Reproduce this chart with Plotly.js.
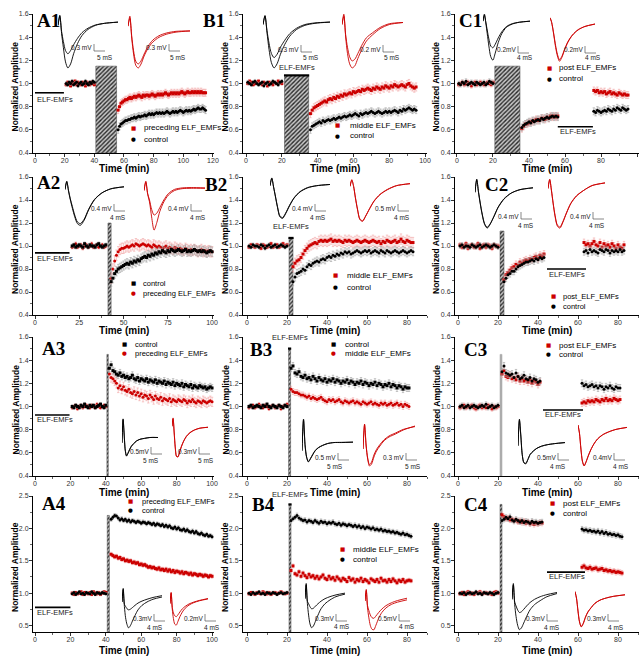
<!DOCTYPE html>
<html><head><meta charset="utf-8">
<script src="https://cdn.plot.ly/plotly-3.0.1.min.js"></script>
<style>html,body{margin:0;padding:0;background:#fff}#chart{width:641px;height:656px}</style>
</head><body><div id="chart"></div>
<script>
// ================= DATA (normalized fEPSP amplitude, sampled every 1 min) =================
// Segment start times (min)
const A1_start=[21,56], A2_start=[21,43], A3_start=[21,42], A4_start=[21,43];
const B1_start=[1,36], B2_start=[1,23], B3_start=[1,22], B4_start=[1,22];
const C1_start=[1,36,76], C2_start=[1,23,63], C3_start=[1,22,62], C4_start=[1,22,62];
// SEM used for error bars: [baseline, control post, ELF post]
const A1_sem=[0.015,0.03,0.03], A2_sem=[0.015,0.04,0.045], A3_sem=[0.015,0.03,0.04], A4_sem=[0.02,0.03,0.03];
const B1_sem=[0.015,0.03,0.035], B2_sem=[0.015,0.035,0.045], B3_sem=[0.015,0.03,0.025], B4_sem=[0.02,0.035,0.03];
const C1_sem=[0.02,0.03,0.03], C2_sem=[0.02,0.03,0.03], C3_sem=[0.02,0.03,0.03], C4_sem=[0.025,0.04,0.04];
// ELF-EMF exposure periods [start, end] (min)
const A1_field=[41,55], A2_field=[41.2,43], A3_field=[40.6,41.4], A4_field=[40.8,42];
const B1_field=[21.5,35], B2_field=[21,23], B3_field=[20.8,21.8], B4_field=[21,22];
const C1_field=[21,35], C2_field=[21,23], C3_field=[21,22], C4_field=[21,22];

// ---- A1
const A1_ctrl_base=[1.00,0.99,1.01,1.00,1.02,0.99,1.00,1.01,0.98,1.00,1.01,0.99,1.00,1.02,1.00,0.99,1.01,1.00,1.02,1.01];
const A1_exp_base=[0.99,1.01,1.00,0.98,1.01,1.00,1.02,0.99,1.01,1.00,0.99,1.01,1.00,0.98,1.01,1.00,0.99,1.01,1.00,0.99];
const A1_exp_post=[0.77,0.80,0.83,0.84,0.85,0.86,0.86,0.87,0.88,0.87,0.88,0.89,0.88,0.89,0.90,0.89,0.88,0.90,0.89,0.90,
0.90,0.89,0.90,0.91,0.90,0.89,0.90,0.91,0.90,0.91,0.90,0.91,0.92,0.91,0.90,0.91,0.92,0.91,0.92,0.91,
0.92,0.91,0.92,0.93,0.92,0.91,0.92,0.93,0.92,0.92,0.93,0.92,0.93,0.92,0.93,0.92,0.93,0.92,0.92,0.92];
const A1_ctrl_post=[0.60,0.63,0.65,0.66,0.67,0.68,0.68,0.69,0.69,0.70,0.70,0.71,0.70,0.71,0.72,0.71,0.72,0.72,0.73,0.72,
0.73,0.74,0.73,0.74,0.73,0.74,0.75,0.74,0.75,0.74,0.75,0.74,0.75,0.76,0.75,0.74,0.75,0.76,0.75,0.76,
0.75,0.76,0.77,0.76,0.75,0.76,0.77,0.76,0.77,0.76,0.77,0.78,0.77,0.78,0.79,0.78,0.78,0.79,0.78,0.77];
// ---- A2
const A2_ctrl_base=[1.00,1.01,0.99,1.00,1.01,1.00,0.99,1.02,1.00,0.99,1.01,1.00,1.00,0.99,1.01,1.02,1.00,0.99,1.00,1.01];
const A2_exp_base=[0.99,1.00,1.02,0.99,1.00,1.01,0.98,1.00,1.01,0.99,1.00,1.02,0.99,1.00,1.01,0.99,1.00,1.01,0.99,1.00];
const A2_ctrl_post=[0.69,0.72,0.76,0.78,0.80,0.81,0.82,0.83,0.84,0.85,0.84,0.86,0.85,0.87,0.86,0.88,0.87,0.89,0.90,0.91,
0.90,0.92,0.91,0.93,0.92,0.94,0.93,0.95,0.94,0.96,0.95,0.94,0.96,0.95,0.97,0.96,0.95,0.96,0.97,0.96,
0.95,0.96,0.97,0.95,0.96,0.95,0.96,0.97,0.96,0.95,0.96,0.95,0.96,0.95,0.94,0.95,0.96,0.95];
const A2_exp_post=[0.72,0.80,0.87,0.92,0.95,0.97,0.98,0.98,0.99,1.00,0.99,1.00,1.01,1.00,1.02,1.01,1.00,1.01,1.02,1.01,
1.00,1.01,1.00,0.99,1.01,1.00,0.99,1.00,0.99,0.98,0.99,1.00,0.98,0.99,0.98,0.97,0.99,0.98,0.97,0.98,
0.97,0.96,0.98,0.97,0.96,0.97,0.96,0.97,0.96,0.95,0.96,0.97,0.95,0.96,0.95,0.96,0.95,0.95];
// ---- A3
const A3_ctrl_base=[1.00,0.99,1.01,1.00,0.99,1.01,1.00,1.02,1.00,0.99,1.01,1.00,1.01,0.99,1.00,1.01,1.02,1.00,0.99,1.01];
const A3_exp_base=[0.99,1.00,1.01,0.98,1.00,1.01,0.99,1.00,1.01,1.00,0.99,1.01,1.00,0.99,1.02,1.00,0.99,1.00,1.01,1.00];
const A3_ctrl_post=[1.33,1.36,1.31,1.30,1.28,1.27,1.29,1.26,1.27,1.25,1.26,1.24,1.25,1.27,1.24,1.23,1.25,1.22,1.24,1.23,
1.22,1.24,1.21,1.23,1.22,1.21,1.23,1.20,1.22,1.21,1.20,1.22,1.19,1.21,1.20,1.19,1.21,1.18,1.20,1.19,
1.18,1.20,1.17,1.19,1.18,1.17,1.19,1.16,1.18,1.17,1.16,1.18,1.17,1.16,1.17,1.15,1.16,1.17,1.16];
const A3_exp_post=[1.28,1.25,1.24,1.22,1.20,1.16,1.18,1.15,1.17,1.14,1.13,1.15,1.12,1.11,1.13,1.10,1.12,1.09,1.11,1.08,
1.10,1.09,1.07,1.10,1.08,1.06,1.09,1.07,1.06,1.08,1.05,1.07,1.06,1.05,1.07,1.04,1.06,1.05,1.04,1.06,
1.05,1.04,1.06,1.05,1.03,1.05,1.04,1.06,1.04,1.03,1.05,1.04,1.03,1.05,1.04,1.03,1.04,1.05,1.04];
// ---- A4
const A4_ctrl_base=[0.99,1.01,0.98,1.00,1.02,0.99,1.00,0.98,1.01,1.00,0.99,1.02,1.00,0.98,1.01,1.00,0.99,1.01,1.00,0.99];
const A4_exp_base=[1.00,0.98,1.01,0.99,1.00,1.02,0.98,1.01,1.00,0.99,1.01,0.98,1.02,1.00,0.99,1.01,0.98,1.00,1.02,1.01];
const A4_ctrl_post=[2.14,2.17,2.20,2.19,2.16,2.13,2.15,2.12,2.14,2.11,2.13,2.10,2.12,2.11,2.09,2.11,2.10,2.08,2.10,2.09,
2.07,2.09,2.08,2.06,2.08,2.05,2.07,2.06,2.04,2.06,2.03,2.05,2.02,2.04,2.01,2.00,2.02,1.99,2.01,1.98,
1.97,1.99,1.96,1.98,1.95,1.94,1.96,1.93,1.95,1.92,1.91,1.93,1.90,1.89,1.91,1.88,1.89,1.87];
const A4_exp_post=[1.60,1.58,1.56,1.57,1.54,1.55,1.52,1.53,1.50,1.51,1.49,1.50,1.47,1.48,1.46,1.47,1.44,1.45,1.43,1.44,
1.42,1.40,1.41,1.39,1.40,1.38,1.37,1.39,1.36,1.37,1.35,1.37,1.34,1.36,1.33,1.35,1.32,1.34,1.33,1.31,
1.33,1.30,1.32,1.31,1.29,1.31,1.28,1.30,1.29,1.27,1.29,1.28,1.26,1.28,1.27,1.25,1.27,1.26];
// ---- B1
const B1_ctrl_base=[1.01,1.00,0.99,1.01,1.02,1.00,0.99,1.00,1.01,0.98,1.00,1.01,0.99,1.00,1.02,1.01,1.00,0.99,1.01,1.02];
const B1_exp_base=[1.00,1.02,1.01,0.99,1.00,1.01,1.02,1.00,0.99,1.01,1.00,0.98,1.01,1.00,0.99,1.01,1.00,1.02,1.01,1.00];
const B1_exp_post=[0.74,0.77,0.79,0.80,0.81,0.82,0.83,0.84,0.85,0.84,0.86,0.87,0.86,0.88,0.87,0.89,0.88,0.90,0.89,0.91,
0.90,0.91,0.92,0.91,0.93,0.92,0.93,0.94,0.93,0.95,0.94,0.95,0.96,0.95,0.94,0.96,0.95,0.97,0.96,0.95,
0.97,0.96,0.98,0.97,0.96,0.98,0.97,0.99,0.98,0.97,0.98,0.99,0.98,0.97,0.99,1.00,0.98,0.97,0.96,0.97];
const B1_ctrl_post=[0.60,0.63,0.64,0.65,0.66,0.67,0.66,0.68,0.67,0.68,0.69,0.68,0.69,0.70,0.69,0.70,0.71,0.70,0.71,0.72,
0.71,0.72,0.73,0.72,0.73,0.74,0.73,0.72,0.74,0.73,0.74,0.75,0.74,0.75,0.76,0.75,0.74,0.75,0.76,0.75,
0.74,0.75,0.76,0.75,0.76,0.75,0.76,0.77,0.76,0.75,0.77,0.76,0.78,0.77,0.78,0.79,0.78,0.77,0.78,0.77];
// ---- B2
const B2_ctrl_base=[1.00,0.99,1.01,1.00,1.00,0.99,1.01,1.00,0.98,1.00,1.01,0.99,1.00,1.01,0.99,1.00,1.01,1.00,0.99,1.00];
const B2_exp_base=[0.99,1.01,1.00,0.99,1.01,1.00,0.98,1.01,1.00,0.99,1.00,1.02,0.99,1.00,1.01,0.99,1.00,1.02,1.00,1.01];
const B2_exp_post=[0.82,0.85,0.87,0.88,0.90,0.93,0.96,0.98,1.00,1.01,1.02,1.03,1.02,1.04,1.05,1.04,1.05,1.04,1.05,1.06,
1.04,1.05,1.04,1.05,1.04,1.03,1.05,1.04,1.05,1.04,1.03,1.04,1.05,1.04,1.03,1.04,1.05,1.04,1.03,1.04,
1.05,1.04,1.03,1.04,1.02,1.04,1.03,1.05,1.04,1.03,1.04,1.05,1.03,1.04,1.06,1.04,1.03,1.05,1.04,1.03,1.03];
const B2_ctrl_post=[0.69,0.73,0.76,0.77,0.78,0.80,0.79,0.82,0.84,0.83,0.85,0.86,0.87,0.86,0.88,0.89,0.88,0.90,0.91,0.90,
0.92,0.91,0.93,0.92,0.94,0.93,0.95,0.94,0.95,0.93,0.94,0.95,0.96,0.95,0.94,0.95,0.96,0.95,0.96,0.94,
0.95,0.96,0.95,0.94,0.96,0.95,0.94,0.96,0.95,0.94,0.95,0.96,0.95,0.94,0.95,0.96,0.95,0.94,0.95,0.96,0.95];
// ---- B3
const B3_ctrl_base=[1.00,1.01,0.99,1.00,1.01,1.00,0.99,1.01,1.00,1.02,1.00,0.99,1.01,1.00,0.99,1.01,1.00,0.99,1.01,1.00];
const B3_exp_base=[0.99,1.00,1.01,0.99,1.00,1.02,1.00,0.99,1.01,1.00,0.98,1.00,1.01,0.99,1.00,1.01,0.98,1.00,1.01,1.02];
const B3_ctrl_post=[1.33,1.35,1.29,1.28,1.30,1.26,1.25,1.27,1.24,1.25,1.23,1.26,1.24,1.22,1.25,1.23,1.22,1.24,1.21,1.23,
1.22,1.24,1.21,1.23,1.22,1.20,1.22,1.21,1.23,1.20,1.22,1.21,1.19,1.21,1.20,1.22,1.19,1.21,1.20,1.18,
1.20,1.19,1.21,1.18,1.20,1.19,1.17,1.19,1.18,1.20,1.17,1.19,1.18,1.16,1.18,1.17,1.15,1.17,1.16,1.16];
const B3_exp_post=[1.15,1.13,1.12,1.12,1.11,1.10,1.10,1.09,1.08,1.09,1.07,1.08,1.07,1.06,1.07,1.08,1.06,1.05,1.04,1.06,
1.05,1.06,1.04,1.05,1.06,1.04,1.03,1.05,1.04,1.03,1.04,1.05,1.03,1.04,1.03,1.02,1.04,1.03,1.02,1.03,
1.04,1.02,1.03,1.02,1.01,1.03,1.02,1.03,1.01,1.02,1.03,1.01,1.02,1.03,1.01,1.02,1.00,1.02,1.01,1.00];
// ---- B4
const B4_ctrl_base=[1.00,0.98,1.01,0.99,1.00,1.02,0.99,1.00,0.98,1.01,1.00,0.99,1.01,1.00,0.98,1.00,1.01,0.99,1.00,1.01];
const B4_exp_base=[0.99,1.01,1.00,0.98,1.01,1.00,0.99,1.02,1.00,0.99,1.01,0.98,1.00,1.01,0.99,1.00,1.02,1.00,0.99,1.00];
const B4_ctrl_post=[2.12,2.15,2.17,2.20,2.16,2.14,2.12,2.13,2.10,2.12,2.11,2.09,2.12,2.10,2.08,2.11,2.09,2.10,2.07,2.09,
2.08,2.10,2.07,2.06,2.08,2.05,2.07,2.06,2.04,2.06,2.05,2.03,2.05,2.02,2.04,2.01,2.03,2.00,2.02,2.01,
1.99,2.01,1.98,1.99,1.97,1.99,1.96,1.97,1.95,1.96,1.94,1.95,1.93,1.94,1.92,1.91,1.93,1.90,1.91,1.89,1.88];
const B4_exp_post=[1.35,1.42,1.30,1.28,1.33,1.26,1.31,1.27,1.24,1.29,1.25,1.27,1.23,1.26,1.22,1.25,1.28,1.23,1.21,1.26,
1.22,1.24,1.20,1.25,1.22,1.19,1.23,1.21,1.18,1.24,1.20,1.22,1.17,1.21,1.19,1.23,1.18,1.21,1.19,1.16,
1.22,1.20,1.18,1.21,1.17,1.23,1.19,1.20,1.17,1.21,1.18,1.22,1.19,1.16,1.20,1.18,1.21,1.17,1.19,1.20,1.19];
// ---- C1
const C1_ctrl_base=[1.00,0.99,1.01,1.00,1.02,0.99,1.00,1.01,1.00,0.99,1.01,1.00,0.99,1.00,1.01,0.99,1.00,1.02,1.01,1.00];
const C1_exp_base=[0.99,1.00,1.01,0.99,1.00,1.01,1.00,0.98,1.00,1.01,0.99,1.00,1.01,1.00,0.99,1.00,1.01,1.00,0.99,1.01];
const C1_ctrl_mid=[0.62,0.64,0.65,0.66,0.67,0.66,0.68,0.67,0.68,0.69,0.68,0.70,0.69,0.70,0.71,0.70,0.71,0.72,0.71,0.72,0.71];
const C1_exp_mid=[0.61,0.63,0.65,0.65,0.66,0.67,0.67,0.68,0.69,0.68,0.69,0.70,0.70,0.69,0.71,0.70,0.72,0.71,0.72,0.71,0.72];
const C1_ctrl_late=[0.76,0.75,0.77,0.76,0.75,0.76,0.77,0.76,0.78,0.77,0.76,0.78,0.77,0.79,0.78,0.77,0.79,0.78,0.77,0.78];
const C1_exp_late=[0.94,0.93,0.94,0.92,0.93,0.92,0.93,0.91,0.92,0.93,0.91,0.92,0.91,0.90,0.92,0.91,0.90,0.91,0.90,0.90];
// ---- C2
const C2_ctrl_base=[1.00,1.01,0.99,1.00,1.00,0.99,1.01,1.00,0.99,1.00,1.01,0.99,1.00,1.01,1.00,0.99,1.00,1.01,1.00,0.99];
const C2_exp_base=[1.01,0.99,1.00,1.02,0.98,1.00,1.01,0.99,1.00,1.02,0.98,1.00,1.01,0.99,1.01,1.00,0.98,1.01,1.00,1.00];
const C2_ctrl_mid=[0.69,0.72,0.75,0.76,0.78,0.78,0.80,0.82,0.83,0.84,0.85,0.86,0.86,0.87,0.88,0.87,0.89,0.88,0.90,0.89,0.90];
const C2_exp_mid=[0.71,0.75,0.77,0.79,0.81,0.82,0.84,0.83,0.86,0.85,0.87,0.88,0.87,0.89,0.88,0.90,0.91,0.89,0.92,0.91,0.93];
const C2_ctrl_late=[0.95,0.96,0.94,0.97,0.95,0.96,0.95,0.94,0.97,0.96,0.95,0.97,0.96,0.94,0.96,0.95,0.96,0.95,0.97,0.95,0.96];
const C2_exp_late=[1.03,1.01,1.02,1.00,1.02,1.04,1.01,1.00,1.03,0.99,1.02,1.00,1.01,0.99,1.02,1.00,0.98,1.01,0.99,0.98,1.01];
// ---- C3
const C3_ctrl_base=[1.00,1.01,0.99,1.00,1.01,0.99,1.00,1.01,1.00,0.99,1.00,1.01,1.00,1.02,0.99,1.00,1.01,0.99,1.00,1.01];
const C3_exp_base=[0.99,1.00,1.01,0.99,1.00,1.00,1.01,0.99,0.98,1.00,1.01,0.99,1.00,0.99,1.01,1.00,0.98,1.00,0.99,1.00];
const C3_ctrl_mid=[1.30,1.35,1.29,1.28,1.27,1.28,1.25,1.29,1.26,1.24,1.25,1.27,1.24,1.23,1.25,1.22,1.24,1.23,1.21,1.22];
const C3_exp_mid=[1.28,1.31,1.26,1.25,1.27,1.24,1.25,1.23,1.26,1.22,1.24,1.22,1.23,1.21,1.23,1.20,1.22,1.21,1.19,1.21];
const C3_ctrl_late=[1.20,1.18,1.19,1.17,1.18,1.19,1.17,1.18,1.16,1.18,1.17,1.15,1.17,1.16,1.18,1.16,1.15,1.17,1.16,1.16];
const C3_exp_late=[1.03,1.04,1.03,1.05,1.04,1.05,1.04,1.06,1.05,1.04,1.06,1.05,1.07,1.05,1.06,1.05,1.07,1.06,1.05,1.06];
// ---- C4
const C4_ctrl_base=[1.00,0.99,1.01,0.98,1.00,1.01,0.99,1.00,1.02,0.99,1.00,0.98,1.01,1.00,0.99,1.01,1.00,0.98,1.00,1.01];
const C4_exp_base=[0.99,1.01,0.98,1.00,1.02,0.99,1.00,0.98,1.01,1.00,1.02,0.99,1.00,1.01,0.99,1.00,0.98,1.01,1.02,1.00];
const C4_ctrl_mid=[2.12,2.14,2.17,2.15,2.18,2.13,2.11,2.14,2.12,2.10,2.12,2.09,2.11,2.10,2.08,2.11,2.09,2.10,2.08,2.09,2.10];
const C4_exp_mid=[2.21,2.18,2.15,2.16,2.13,2.14,2.12,2.13,2.10,2.12,2.09,2.11,2.08,2.10,2.07,2.09,2.06,2.08,2.07,2.09,2.08];
const C4_ctrl_late=[1.99,1.97,1.98,1.96,1.97,1.95,1.96,1.94,1.96,1.93,1.95,1.92,1.94,1.91,1.92,1.90,1.91,1.89,1.90,1.88,1.87];
const C4_exp_late=[1.40,1.42,1.39,1.38,1.40,1.37,1.38,1.39,1.36,1.37,1.38,1.35,1.36,1.34,1.35,1.33,1.34,1.32,1.33,1.32,1.31];

// ---- Example fEPSP traces (insets), normalized voltage vs time (ms)
const tW=[0,0.6,1.2,1.8,2.5,3.3,4.2,5.2,6.5,8,10,12.5,15.5,20];
const A1k_a=[0.0,0.25,-0.2,-0.55,-0.9,-1.05,-0.95,-0.7,-0.45,-0.25,-0.1,0.0,0.05,0.08];
const A1k_b=[0.0,0.22,-0.15,-0.4,-0.62,-0.7,-0.62,-0.48,-0.32,-0.18,-0.07,0.01,0.05,0.08];
const A1r_a=[0.0,0.25,-0.3,-0.7,-0.98,-1.05,-0.95,-0.75,-0.55,-0.4,-0.28,-0.2,-0.15,-0.12];
const A1r_b=[0.0,0.2,-0.25,-0.62,-0.88,-0.95,-0.87,-0.7,-0.5,-0.35,-0.24,-0.17,-0.13,-0.12];
const B1k_a=[0.0,0.22,-0.2,-0.6,-0.92,-1.05,-0.95,-0.72,-0.48,-0.28,-0.12,-0.02,0.03,0.06];
const B1k_b=[0.0,0.2,-0.15,-0.45,-0.7,-0.8,-0.72,-0.55,-0.38,-0.22,-0.09,0.0,0.04,0.06];
const B1r_a=[0.0,0.25,-0.3,-0.7,-0.95,-1.05,-1.0,-0.82,-0.6,-0.4,-0.25,-0.1,0.0,0.05];
const B1r_b=[0.0,0.2,-0.25,-0.55,-0.78,-0.88,-0.84,-0.7,-0.5,-0.32,-0.2,-0.07,0.02,0.05];
const C1k_a=[0.05,0.25,0.0,-0.3,-0.65,-0.95,-1.05,-0.85,-0.55,-0.3,-0.12,-0.03,0.02,0.05];
const C1k_b=[0.05,0.22,0.02,-0.2,-0.45,-0.65,-0.7,-0.6,-0.42,-0.25,-0.1,-0.02,0.02,0.05];
const C1r_a=[0.2,0.1,-0.1,-0.35,-0.65,-0.9,-1.05,-0.95,-0.72,-0.5,-0.3,-0.15,-0.05,0.02];
const C1r_b=[0.2,0.1,-0.08,-0.32,-0.6,-0.85,-1.0,-0.92,-0.7,-0.48,-0.29,-0.14,-0.05,0.02];
const A2k_a=[0.0,0.25,-0.05,-0.3,-0.55,-0.8,-1.0,-1.05,-0.9,-0.6,-0.3,-0.1,0.02,0.08];
const A2k_b=[0.0,0.22,-0.03,-0.27,-0.5,-0.75,-0.95,-1.0,-0.87,-0.58,-0.29,-0.1,0.02,0.08];
const A2r_a=[0.0,0.25,-0.1,-0.3,-0.7,-1.05,-0.85,-0.55,-0.3,-0.12,0.0,0.05,0.06,0.06];
const A2r_b=[0.0,0.22,-0.08,-0.25,-0.5,-0.65,-0.6,-0.45,-0.25,-0.08,0.03,0.07,0.08,0.07];
const B2k_a=[0.0,0.25,-0.05,-0.35,-0.7,-1.0,-1.05,-0.9,-0.65,-0.4,-0.2,-0.07,0.0,0.04];
const B2k_b=[0.0,0.23,-0.04,-0.33,-0.67,-0.97,-1.02,-0.88,-0.63,-0.39,-0.19,-0.06,0.0,0.04];
const B2r_a=[0.0,0.2,0.0,-0.35,-0.7,-1.0,-1.05,-0.9,-0.68,-0.45,-0.25,-0.1,0.02,0.08];
const B2r_b=[0.0,0.18,0.0,-0.33,-0.68,-0.98,-1.03,-0.89,-0.67,-0.44,-0.24,-0.09,0.02,0.08];
const C2k_a=[-0.1,0.25,-0.1,-0.4,-0.7,-0.95,-1.05,-0.95,-0.75,-0.5,-0.28,-0.12,-0.03,0.02];
const C2k_b=[-0.1,0.23,-0.08,-0.38,-0.68,-0.93,-1.03,-0.94,-0.74,-0.49,-0.27,-0.12,-0.03,0.02];
const C2r_a=[0.0,0.25,-0.05,-0.4,-0.75,-1.0,-1.05,-0.9,-0.65,-0.4,-0.2,-0.05,0.08,0.15];
const C2r_b=[0.0,0.23,-0.04,-0.38,-0.72,-0.97,-1.02,-0.88,-0.64,-0.39,-0.19,-0.05,0.08,0.15];
const A3k_a=[-0.3,1.05,0.2,-0.7,-1.05,-0.9,-0.7,-0.5,-0.35,-0.2,-0.1,-0.05,0.0,0.0];
const A3k_b=[-0.3,1.0,0.15,-0.72,-1.03,-0.88,-0.68,-0.49,-0.34,-0.2,-0.1,-0.05,0.0,0.0];
const A3r_a=[0.6,1.05,0.3,-0.5,-1.0,-1.05,-0.8,-0.5,-0.2,0.05,0.25,0.4,0.5,0.55];
const A3r_b=[0.6,1.0,0.25,-0.55,-1.02,-1.03,-0.78,-0.48,-0.18,0.07,0.27,0.41,0.5,0.55];
const B3k_a=[-0.5,1.05,-0.2,-0.8,-1.05,-0.9,-0.7,-0.5,-0.35,-0.25,-0.15,-0.1,-0.1,-0.08];
const B3k_b=[-0.5,1.0,-0.25,-0.82,-1.03,-0.88,-0.68,-0.48,-0.34,-0.24,-0.15,-0.1,-0.09,-0.08];
const B3r_a=[-0.2,1.05,0.0,-0.7,-1.05,-0.95,-0.6,-0.3,-0.05,0.2,0.4,0.55,0.75,0.95];
const B3r_b=[-0.2,1.0,-0.05,-0.65,-0.98,-0.85,-0.5,-0.22,0.02,0.25,0.45,0.6,0.78,0.92];
const C3k_a=[-0.2,1.05,0.3,-0.6,-1.0,-1.05,-0.85,-0.6,-0.45,-0.32,-0.22,-0.15,-0.1,-0.05];
const C3k_b=[-0.2,1.0,0.25,-0.62,-0.98,-1.02,-0.84,-0.6,-0.45,-0.32,-0.22,-0.15,-0.1,-0.05];
const C3r_a=[1.0,0.6,-0.2,-0.8,-1.05,-0.85,-0.55,-0.25,0.05,0.3,0.5,0.65,0.78,0.88];
const C3r_b=[1.0,0.58,-0.22,-0.82,-1.03,-0.83,-0.53,-0.24,0.06,0.31,0.51,0.66,0.78,0.88];
const A4k_a=[0.1,0.7,-0.1,-0.6,-0.9,-1.05,-0.95,-0.75,-0.5,-0.25,-0.05,0.1,0.22,0.32];
const A4k_b=[0.1,0.65,0.0,-0.1,-0.2,-0.25,-0.22,-0.15,-0.05,0.05,0.14,0.22,0.3,0.38];
const A4r_a=[0.1,0.7,-0.2,-0.7,-1.0,-1.05,-0.85,-0.6,-0.35,-0.15,0.02,0.15,0.25,0.35];
const A4r_b=[0.1,0.65,-0.1,-0.4,-0.55,-0.6,-0.5,-0.35,-0.18,-0.05,0.08,0.18,0.27,0.37];
const B4k_a=[0.1,0.7,-0.1,-0.55,-0.9,-1.05,-0.98,-0.8,-0.55,-0.3,-0.1,0.05,0.18,0.28];
const B4k_b=[0.1,0.65,0.0,-0.1,-0.22,-0.3,-0.28,-0.2,-0.1,0.0,0.1,0.18,0.25,0.32];
const B4r_a=[0.2,0.7,-0.1,-0.5,-0.85,-1.02,-1.05,-0.85,-0.55,-0.3,-0.1,0.05,0.15,0.25];
const B4r_b=[0.2,0.65,0.0,-0.2,-0.4,-0.52,-0.55,-0.45,-0.3,-0.15,0.0,0.12,0.22,0.32];
const C4k_a=[0.1,0.7,-0.1,-0.55,-0.88,-1.05,-0.98,-0.8,-0.55,-0.3,-0.1,0.05,0.2,0.32];
const C4k_b=[0.1,0.65,0.0,-0.15,-0.3,-0.4,-0.37,-0.28,-0.15,-0.02,0.1,0.2,0.28,0.36];
const C4r_a=[0.6,0.3,-0.3,-0.8,-1.05,-0.9,-0.6,-0.35,-0.15,0.05,0.2,0.3,0.38,0.45];
const C4r_b=[0.6,0.28,-0.32,-0.82,-1.03,-0.88,-0.58,-0.34,-0.14,0.06,0.2,0.3,0.38,0.45];

// ================= STYLE / LAYOUT =================
const W=641,H=656;
const FONT='Liberation Sans, Arial, sans-serif';
const RED='#cc0000', RED_ERR='#f2a5a5', BLK='#000000', BLK_ERR='#a0a0a0';
const px=v=>v/W, py=v=>1-v/H;
const sfx=n=>n===1?'':String(n);
const mins=(start,arr)=>arr.map((_,i)=>start+i); // 1-min sampling
const D4=-4; // vertical pixel shift of the bottom row

const R1=[14,153],R2=[177,315],R3=[337,476],R4=[500+D4,634.5+D4+1.5];
const CA=[33,214],CB=[243,427],CC=[455,639];
// title positions: x-title centre y per row, y-title centre x per column
const XT={R1:168.5,R2:331,R3:493,R4:650}, YT={CA:15,CB:225,CC:436};
const P=[
 {n:1,id:'A1',cx:CA,cn:'CA',ry:R1,rn:'R1',xr:[-1.35,120.7],yr:[0.4,1.6],dt:20,dy:0.2,st:A1_start,c:[A1_ctrl_base,A1_ctrl_post],e:[A1_exp_base,A1_exp_post],sem:A1_sem,sc:'circle',se:'square',f:A1_field,ft:1.15,lab:[35,20],
  elf:[0,19.5,0.92,0.865],leg:[[133,128,'square',RED,'preceding ELF_EMFs'],[133,139,'circle',BLK,'control']],lx:142,lf:8},
 {n:2,id:'A2',cx:CA,cn:'CA',ry:R2,rn:'R2',xr:[-1.13,101.1],yr:[0.4,1.6],dt:25,dy:0.2,st:A2_start,c:[A2_ctrl_base,A2_ctrl_post],e:[A2_exp_base,A2_exp_post],sem:A2_sem,sc:'square',se:'circle',f:A2_field,ft:1.2,lab:[35,182],
  elf:[0,19.5,0.94,0.895],leg:[[133,283,'square',BLK,'control'],[133,293,'circle',RED,'preceding ELF_EMFs']],lx:141,lf:7.5},
 {n:3,id:'A3',cx:CA,cn:'CA',ry:R3,rn:'R3',xr:[-1.13,101.1],yr:[0.4,1.6],dt:20,dy:0.2,st:A3_start,c:[A3_ctrl_base,A3_ctrl_post],e:[A3_exp_base,A3_exp_post],sem:A3_sem,sc:'square',se:'circle',f:A3_field,ft:1.45,lab:[40,348],
  elf:[0,19.5,0.927,0.885],leg:[[124,344,'square',BLK,'control'],[124,353,'circle',RED,'preceding ELF_EMFs']],lx:133,lf:7.5},
 {n:4,id:'A4',cx:CA,cn:'CA',ry:R4,rn:'R4',xr:[-1.13,101.1],yr:[0.4,2.5],dt:20,dy:0.5,st:A4_start,c:[A4_ctrl_base,A4_ctrl_post],e:[A4_exp_base,A4_exp_post],sem:A4_sem,sc:'circle',se:'square',f:A4_field,ft:2.2,lab:[40,507+D4],
  elf:[0,20,0.78,0.7],leg:[[130,505+D4,'square',RED,'preceding ELF_EMFs'],[130,514+D4,'circle',BLK,'control']],lx:140,lf:7.5},
 {n:5,id:'B1',cx:CB,cn:'CB',ry:R1,rn:'R1',xr:[-1.68,101.1],yr:[0.4,1.6],dt:20,dy:0.2,st:B1_start,c:[B1_ctrl_base,B1_ctrl_post],e:[B1_exp_base,B1_exp_post],sem:B1_sem,sc:'circle',se:'square',f:B1_field,ft:1.07,lab:[201,21],
  cap:[1.07,1.085],leg:[[338,125,'square',RED,'middle ELF_EMFs'],[338,136,'circle',BLK,'control']],lx:348,lf:8},
 {n:6,id:'B2',cx:CB,cn:'CB',ry:R2,rn:'R2',xr:[-2,90],yr:[0.4,1.6],dt:20,dy:0.2,st:B2_start,c:[B2_ctrl_base,B2_ctrl_post],e:[B2_exp_base,B2_exp_post],sem:B2_sem,sc:'circle',se:'square',f:B2_field,ft:1.07,lab:[203,184],
  cap:[1.07,1.11],leg:[[335,275,'square',RED,'middle ELF_EMFs'],[335,287,'circle',BLK,'control']],lx:345,lf:8},
 {n:7,id:'B3',cx:CB,cn:'CB',ry:R3,rn:'R3',xr:[-2,90],yr:[0.4,1.6],dt:20,dy:0.2,st:B3_start,c:[B3_ctrl_base,B3_ctrl_post],e:[B3_exp_base,B3_exp_post],sem:B3_sem,sc:'square',se:'circle',f:B3_field,ft:1.5,lab:[248,349],
  cap:[1.5,1.54],leg:[[333,344,'square',BLK,'control'],[333,353,'circle',RED,'middle ELF_EMFs']],lx:343,lf:8},
 {n:8,id:'B4',cx:CB,cn:'CB',ry:R4,rn:'R4',xr:[-2,90],yr:[0.4,2.5],dt:20,dy:0.5,st:B4_start,c:[B4_ctrl_base,B4_ctrl_post],e:[B4_exp_base,B4_exp_post],sem:B4_sem,sc:'circle',se:'square',f:B4_field,ft:2.37,lab:[250,508+D4],
  cap:[2.37,2.42],leg:[[342,553+D4,'square',RED,'middle ELF_EMFs'],[342,563+D4,'circle',BLK,'control']],lx:351,lf:8},
 {n:9,id:'C1',cx:CC,cn:'CC',ry:R1,rn:'R1',xr:[-1.1,101.1],yr:[0.4,1.6],dt:20,dy:0.2,st:C1_start,c:[C1_ctrl_base,C1_ctrl_mid,C1_ctrl_late],e:[C1_exp_base,C1_exp_mid,C1_exp_late],sem:C1_sem,sc:'circle',se:'square',f:C1_field,ft:1.15,lab:[457,21],
  elf:[56,75.5,0.627,0.585],leg:[[549,68,'square',RED,'post ELF_EMFs'],[549,79,'circle',BLK,'control']],lx:557,lf:8},
 {n:10,id:'C2',cx:CC,cn:'CC',ry:R2,rn:'R2',xr:[-1.5,90.5],yr:[0.4,1.6],dt:20,dy:0.2,st:C2_start,c:[C2_ctrl_base,C2_ctrl_mid,C2_ctrl_late],e:[C2_exp_base,C2_exp_mid,C2_exp_late],sem:C2_sem,sc:'circle',se:'square',f:C2_field,ft:1.13,lab:[483,184],
  elf:[44.5,64,0.80,0.755],leg:[[553,296,'square',RED,'post_ELF_EMFs'],[553,306,'circle',BLK,'control']],lx:561,lf:7.5},
 {n:11,id:'C3',cx:CC,cn:'CC',ry:R3,rn:'R3',xr:[-1.5,90.5],yr:[0.4,1.6],dt:20,dy:0.2,st:C3_start,c:[C3_ctrl_base,C3_ctrl_mid,C3_ctrl_late],e:[C3_exp_base,C3_exp_mid,C3_exp_late],sem:C3_sem,sc:'circle',se:'square',f:C3_field,ft:1.45,lab:[462,349],solid:true,
  elf:[42.5,62.5,0.97,0.93],leg:[[548,345,'square',RED,'post ELF_EMFs'],[548,354,'circle',BLK,'control']],lx:557,lf:8},
 {n:12,id:'C4',cx:CC,cn:'CC',ry:R4,rn:'R4',xr:[-1.5,90.5],yr:[0.4,2.5],dt:20,dy:0.5,st:C4_start,c:[C4_ctrl_base,C4_ctrl_mid,C4_ctrl_late],e:[C4_exp_base,C4_exp_mid,C4_exp_late],sem:C4_sem,sc:'circle',se:'square',f:C4_field,ft:2.37,lab:[462,508+D4],
  elf:[44.5,63.5,1.325,1.25],leg:[[552,507+D4,'square',RED,'post ELF_EMFs'],[552,517+D4,'circle',BLK,'control']],lx:561,lf:8}
];

const INS=[
 {n:13,box:[58,118,14,70],yr:[-1.1,0.28],a:A1k_a,b:A1k_b,c:BLK,t1:'0.3 mV',t2:'5 mS',ty:48,bx:94,t2x:95,t2y:57},
 {n:14,box:[128,190,15,70],yr:[-1.1,0.28],a:A1r_a,b:A1r_b,c:RED,t1:'0.3 mV',t2:'5 mS',ty:48,bx:169,t2x:168,t2y:57},
 {n:15,box:[263,330,13,70],yr:[-1.1,0.28],a:B1k_a,b:B1k_b,c:BLK,t1:'0.3 mV',t2:'5 mS',ty:49,bx:301,t2x:301,t2y:56.5},
 {n:16,box:[342,403,13,70],yr:[-1.1,0.28],a:B1r_a,b:B1r_b,c:RED,t1:'0.2 mV',t2:'5 mS',ty:49,bx:383,t2x:382,t2y:56.5},
 {n:17,box:[483,530,13,62],yr:[-1.1,0.28],a:C1k_a,b:C1k_b,c:BLK,t1:'0.2mV',t2:'4 mS',ty:50,bx:518,t2x:515,t2y:57},
 {n:18,box:[550,595,15,63],yr:[-1.1,0.28],a:C1r_a,b:C1r_b,c:RED,t1:'0.2mV',t2:'4 mS',ty:50,bx:585,t2x:583,t2y:57},
 {n:19,box:[65,124,180,227],yr:[-1.1,0.28],a:A2k_a,b:A2k_b,c:BLK,t1:'0.4 mV',t2:'4 mS',ty:208,bx:114,t2x:108,t2y:217},
 {n:20,box:[144,205,180,232],yr:[-1.1,0.28],a:A2r_a,b:A2r_b,c:RED,t1:'0.4 mV',t2:'4 mS',ty:208,bx:191,t2x:188,t2y:217},
 {n:21,box:[270,330,177,220],yr:[-1.1,0.28],a:B2k_a,b:B2k_b,c:BLK,t1:'0.4 mV',t2:'4 mS',ty:208,bx:315,t2x:308,t2y:216},
 {n:22,box:[350,410,177,223],yr:[-1.1,0.28],a:B2r_a,b:B2r_b,c:RED,t1:'0.5 mV',t2:'4 mS',ty:208,bx:398,t2x:392,t2y:216},
 {n:23,box:[475,533,178,230],yr:[-1.1,0.28],a:C2k_a,b:C2k_b,c:BLK,t1:'0.4 mV',t2:'4 mS',ty:216,bx:521,t2x:516,t2y:224},
 {n:24,box:[548,605,178,230],yr:[-1.1,0.28],a:C2r_a,b:C2r_b,c:RED,t1:'0.4 mV',t2:'4 mS',ty:216,bx:593,t2x:587,t2y:224},
 {n:25,box:[122,158,418,457],yr:[-1.1,1.1],a:A3k_a,b:A3k_b,c:BLK,t1:'0.5mV',t2:'5 mS',ty:451,bx:151,t2x:141,t2y:459},
 {n:26,box:[172,208,417,458],yr:[-1.1,1.1],a:A3r_a,b:A3r_b,c:RED,t1:'0.3mV',t2:'5 mS',ty:451,bx:199,t2x:196,t2y:459},
 {n:27,box:[302,353,418,463],yr:[-1.1,1.1],a:B3k_a,b:B3k_b,c:BLK,t1:'0.5 mV',t2:'5 mS',ty:457,bx:338,t2x:325,t2y:465},
 {n:28,box:[363,415,423,467],yr:[-1.1,1.1],a:B3r_a,b:B3r_b,c:RED,t1:'0.3 mV',t2:'5 mS',ty:457,bx:406,t2x:403,t2y:465},
 {n:29,box:[518,565,418,465],yr:[-1.1,1.1],a:C3k_a,b:C3k_b,c:BLK,t1:'0.5mV',t2:'4 mS',ty:457,bx:558,t2x:548,t2y:465},
 {n:30,box:[578,627,423,467],yr:[-1.1,1.1],a:C3r_a,b:C3r_b,c:RED,t1:'0.4mV',t2:'4 mS',ty:457,bx:614,t2x:611,t2y:465},
 {n:31,box:[122,162,592+D4,633+D4],yr:[-1.1,0.72],a:A4k_a,b:A4k_b,c:BLK,t1:'0.3mV',t2:'4 mS',ty:622+D4,bx:154,t2x:145,t2y:630+D4},
 {n:32,box:[170,208,596+D4,630+D4],yr:[-1.1,0.72],a:A4r_a,b:A4r_b,c:RED,t1:'0.2mV',t2:'4 mS',ty:622+D4,bx:205,t2x:202,t2y:630+D4},
 {n:33,box:[305,345,587+D4,633+D4],yr:[-1.1,0.72],a:B4k_a,b:B4k_b,c:BLK,t1:'0.3mV',t2:'4 mS',ty:622+D4,bx:336,t2x:332,t2y:629+D4},
 {n:34,box:[365,407,593+D4,635+D4],yr:[-1.1,0.72],a:B4r_a,b:B4r_b,c:RED,t1:'0.5mV',t2:'4 mS',ty:622+D4,bx:399,t2x:397,t2y:629+D4},
 {n:35,box:[512,557,587+D4,635+D4],yr:[-1.1,0.72],a:C4k_a,b:C4k_b,c:BLK,t1:'0.3mV',t2:'4 mS',ty:622+D4,bx:547,t2x:542,t2y:630+D4},
 {n:36,box:[575,625,593+D4,632+D4],yr:[-1.1,0.72],a:C4r_a,b:C4r_b,c:RED,t1:'0.3mV',t2:'4 mS',ty:622+D4,bx:608,t2x:606,t2y:630+D4}
];

const traces=[];
const layout={width:W,height:H,margin:{l:0,r:0,t:0,b:0},paper_bgcolor:'#ffffff',plot_bgcolor:'rgba(0,0,0,0)',
  showlegend:false,annotations:[],shapes:[],font:{family:FONT}};

P.forEach(p=>{
  const s=sfx(p.n);
  layout['xaxis'+s]={domain:[px(p.cx[0]),px(p.cx[1])],range:p.xr,anchor:'y'+s,showline:true,linecolor:'#000',linewidth:1,
    ticks:'outside',ticklen:2.5,tickwidth:0.8,tickcolor:'#000',tick0:0,dtick:p.dt,showgrid:false,zeroline:false,
    ticklabelstandoff:-2,tickfont:{size:7,color:'#333',family:FONT},
    minor:{ticks:'outside',ticklen:1.5,dtick:p.dt/2,tickcolor:'#000',tickwidth:0.6}};
  layout['yaxis'+s]={domain:[py(p.ry[1]),py(p.ry[0])],range:p.yr,anchor:'x'+s,showline:true,linecolor:'#000',linewidth:1,
    ticks:'outside',ticklen:3,tickwidth:0.8,tickcolor:'#000',tick0:0,dtick:p.dy,tickformat:'.1f',showgrid:false,zeroline:false,
    ticklabelstandoff:-1,tickfont:{size:7,color:'#333',family:FONT},
    minor:{ticks:'outside',ticklen:2,dtick:p.dy/2,tickcolor:'#000',tickwidth:0.6}};
  // axis titles
  layout.annotations.push({text:'<b>Time (min)</b>',xref:'paper',yref:'paper',x:px((p.cx[0]+p.cx[1])/2),y:py(XT[p.rn]),
    xanchor:'center',yanchor:'middle',showarrow:false,font:{size:10,color:'#000',family:FONT}});
  layout.annotations.push({text:'<b>Normalized Amplitude</b>',xref:'paper',yref:'paper',x:px(YT[p.cn]),y:py((p.ry[0]+p.ry[1])/2+3),
    xanchor:'center',yanchor:'middle',textangle:-90,showarrow:false,font:{size:8.5,color:'#000',family:FONT}});
  // exposure bar
  const fm={color:'#bdbdbd',line:{color:'#444',width:0.5}};
  if(!p.solid){fm.pattern={shape:'/',fgcolor:'#2a2a2a',bgcolor:'#c8c8c8',size:3,solidity:0.45,fillmode:'replace'};}
  else {fm.color='#b0b0b0'; fm.line={color:'#a0a0a0',width:0.5};}
  traces.push({type:'bar',x:[(p.f[0]+p.f[1])/2],width:[p.f[1]-p.f[0]],base:[p.yr[0]],y:[p.ft-p.yr[0]],
    xaxis:'x'+s,yaxis:'y'+s,marker:fm,hoverinfo:'skip'});
  // data segments
  p.st.forEach((t0,i)=>{
    const semC=i===0?p.sem[0]:p.sem[1], semE=i===0?p.sem[0]:p.sem[2];
    traces.push({type:'scatter',mode:'markers',x:mins(t0,p.e[i]),y:p.e[i],xaxis:'x'+s,yaxis:'y'+s,
      marker:{symbol:p.se,size:3,color:RED},error_y:{type:'constant',value:semE,color:RED_ERR,thickness:0.6,width:1.2},hoverinfo:'skip'});
    traces.push({type:'scatter',mode:'markers',x:mins(t0,p.c[i]),y:p.c[i],xaxis:'x'+s,yaxis:'y'+s,
      marker:{symbol:p.sc,size:3,color:BLK},error_y:{type:'constant',value:semC,color:BLK_ERR,thickness:0.6,width:1.2},hoverinfo:'skip'});
  });
  // panel label
  layout.annotations.push({text:'<b>'+p.id+'</b>',xref:'paper',yref:'paper',x:px(p.lab[0]),y:py(p.lab[1]),xanchor:'left',yanchor:'middle',
    showarrow:false,font:{family:'Liberation Serif, Times New Roman, serif',size:19,color:'#000'}});
  // ELF-EMFs marker line
  if(p.elf){
    layout.shapes.push({type:'line',xref:'x'+s,yref:'y'+s,x0:p.elf[0],x1:p.elf[1],y0:p.elf[2],y1:p.elf[2],line:{color:'#000',width:1.6}});
    layout.annotations.push({text:'ELF-EMFs',xref:'x'+s,yref:'y'+s,x:p.elf[0],y:p.elf[3],xanchor:'left',yanchor:'middle',showarrow:false,
      font:{size:7.5,color:'#222',family:FONT}});
  }
  if(p.cap){
    layout.shapes.push({type:'line',xref:'x'+s,yref:'y'+s,x0:p.f[0]-0.3,x1:p.f[1]+0.3,y0:p.cap[0],y1:p.cap[0],line:{color:'#000',width:2.2}});
    layout.annotations.push({text:'ELF-EMFs',xref:'x'+s,yref:'y'+s,x:(p.f[0]+p.f[1])/2,y:p.cap[1],xanchor:'center',yanchor:'bottom',showarrow:false,
      font:{size:7.5,color:'#222',family:FONT}});
  }
  // legend
  p.leg.forEach(L=>{
    layout.annotations.push({text:L[2]==='square'?'■':'●',xref:'paper',yref:'paper',x:px(L[0]),y:py(L[1]),xanchor:'center',yanchor:'middle',
      showarrow:false,font:{size:5.5,color:L[3],family:'DejaVu Sans'}});
    layout.annotations.push({text:L[4],xref:'paper',yref:'paper',x:px(p.lx),y:py(L[1]),xanchor:'left',yanchor:'middle',
      showarrow:false,font:{size:p.lf,color:'#000',family:FONT}});
  });
});

INS.forEach(q=>{
  const s=sfx(q.n);
  layout['xaxis'+s]={domain:[px(q.box[0]),px(q.box[1])],range:[0,20],anchor:'y'+s,visible:false,fixedrange:true};
  layout['yaxis'+s]={domain:[py(q.box[3]),py(q.box[2])],range:q.yr,anchor:'x'+s,visible:false,fixedrange:true};
  [q.a,q.b].forEach(v=>traces.push({type:'scatter',mode:'lines',x:tW,y:v,xaxis:'x'+s,yaxis:'y'+s,
    line:{color:q.c,width:0.9,shape:'spline',smoothing:0.8},hoverinfo:'skip'}));
  layout.annotations.push({text:q.t1,xref:'paper',yref:'paper',x:px(q.bx-0.5),y:py(q.ty),xanchor:'right',yanchor:'middle',showarrow:false,
    font:{size:6.5,color:'#222',family:FONT}});
  layout.annotations.push({text:q.t2,xref:'paper',yref:'paper',x:px(q.t2x),y:py(q.t2y+1),xanchor:'left',yanchor:'middle',showarrow:false,
    font:{size:6.5,color:'#222',family:FONT}});
  layout.shapes.push({type:'line',xref:'paper',yref:'paper',x0:px(q.bx),x1:px(q.bx),y0:py(q.ty-4),y1:py(q.ty+3),line:{color:'#555',width:0.7}});
  layout.shapes.push({type:'line',xref:'paper',yref:'paper',x0:px(q.bx),x1:px(q.bx+11),y0:py(q.ty+3),y1:py(q.ty+3),line:{color:'#555',width:0.7}});
});

Plotly.newPlot('chart',traces,layout,{staticPlot:true,displayModeBar:false});
</script></body></html>
